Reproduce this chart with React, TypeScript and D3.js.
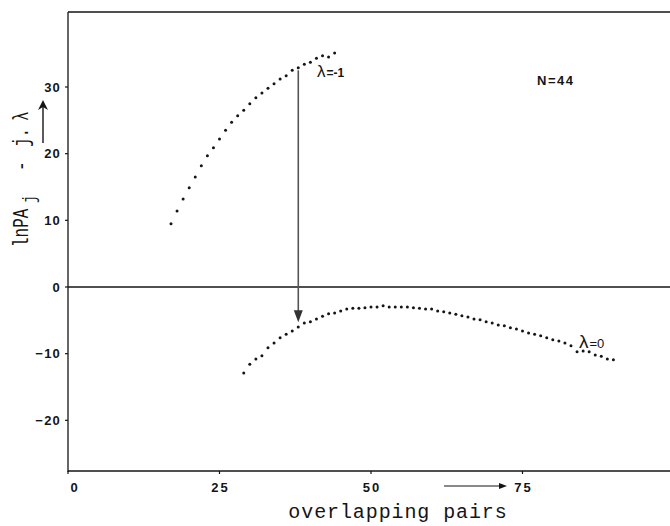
import React from "react";
import * as d3 from "d3";

// Number of overlapping pairs for the λ = -1 series
const upperX = [17, 18, 19, 20, 21, 22, 23, 24, 25, 26, 27, 28, 29, 30, 31, 32, 33, 34, 35, 36, 37, 38, 39, 40, 41, 42, 43, 44];
// lnPA_j - j·λ for λ = -1
const upperY = [9.5, 11.4, 13.2, 14.9, 16.5, 18.2, 19.7, 20.9, 22.2, 23.5, 24.7, 25.7, 26.5, 27.5, 28.4, 29.1, 29.8, 30.5, 31.2, 31.7, 32.5, 32.9, 33.4, 33.7, 34.3, 34.7, 34.5, 35.1];

// Number of overlapping pairs for the λ = 0 series
const lowerX = [29, 30, 31, 32, 33, 34, 35, 36, 37, 38, 39, 40, 41, 42, 43, 44, 45, 46, 47, 48, 49, 50, 51, 52, 53, 54, 55, 56, 57, 58, 59, 60, 61, 62, 63, 64, 65, 66, 67, 68, 69, 70, 71, 72, 73, 74, 75, 76, 77, 78, 79, 80, 81, 82, 83, 84, 85, 86, 87, 88, 89, 90];
// lnPA_j for λ = 0
const lowerY = [-12.9, -11.6, -10.8, -10.3, -9.1, -8.4, -7.6, -7.1, -6.6, -6.0, -5.4, -5.2, -4.8, -4.4, -4.0, -3.9, -3.6, -3.3, -3.2, -3.2, -3.1, -3.0, -3.0, -2.8, -3.0, -3.0, -3.0, -3.0, -3.1, -3.2, -3.3, -3.3, -3.6, -3.7, -3.9, -4.1, -4.3, -4.5, -4.8, -4.9, -5.2, -5.4, -5.7, -5.8, -6.1, -6.3, -6.6, -6.9, -7.1, -7.3, -7.6, -7.9, -8.1, -8.4, -8.8, -9.7, -9.6, -9.7, -10.2, -10.4, -10.8, -10.9];

const xTicks = [0, 25, 50, 75];
const yTicks = [-20, -10, 0, 10, 20, 30];

// Shift arrow between the two curves at j = 38
const shiftX = [38];
const shiftFrom = [32.5];
const shiftTo = [-5.3];

const W = 670;
const H = 526;
const INK = "#151515";
const tickFont = "'Liberation Sans', Arial, sans-serif";
const monoFont = "'Liberation Mono', 'Courier New', monospace";

export default function App() {
  const x = d3.scaleLinear().domain([0, 100]).range([68, 674]);
  const y = d3.scaleLinear().domain([-27.6, 41.25]).range([471, 12]);

  const x0 = x(0);
  const yTop = y(41.25);
  const yBot = y(-27.6);

  const upper = upperX.map((v, i) => [v, upperY[i]]);
  const lower = lowerX.map((v, i) => [v, lowerY[i]]);

  const ax = x(shiftX[0]);
  const a1 = y(shiftFrom[0]);
  const a2 = y(shiftTo[0]);

  return (
    <svg
      width={W}
      height={H}
      viewBox={`0 0 ${W} ${H}`}
      style={{ position: "absolute", left: 0, top: 0, background: "#fff" }}
    >
      <rect x={0} y={0} width={W} height={H} fill="#fff" />

      {/* frame: left axis, top border, bottom axis, zero line */}
      <line x1={x0} y1={yTop} x2={x0} y2={yBot + 1} stroke={INK} strokeWidth={1.3} />
      <line x1={x0} y1={yTop} x2={W} y2={yTop} stroke={INK} strokeWidth={1.3} />
      <line x1={x0} y1={yBot} x2={W} y2={yBot} stroke={INK} strokeWidth={1.3} />
      <line x1={x0} y1={y(0)} x2={W} y2={y(0)} stroke={INK} strokeWidth={1.6} />

      {/* y ticks */}
      {yTicks.map((t) => (
        <g key={`yt${t}`}>
          <line x1={x0 - 3} y1={y(t)} x2={x0} y2={y(t)} stroke={INK} strokeWidth={1.2} />
          <text
            x={61}
            y={y(t)}
            dy="0.35em"
            textAnchor="end"
            fontFamily={tickFont}
            fontWeight="bold"
            fontSize={13}
            letterSpacing={1.2}
            fill={INK}
          >
            {t < 0 ? `\u2212${Math.abs(t)}` : `${t}`}
          </text>
        </g>
      ))}

      {/* x ticks */}
      {xTicks.map((t) => (
        <g key={`xt${t}`}>
          <line x1={x(t)} y1={yBot} x2={x(t)} y2={yBot + 3} stroke={INK} strokeWidth={1.2} />
          <text
            x={x(t) + (t === 0 ? 7 : 1)}
            y={492}
            textAnchor="middle"
            fontFamily={tickFont}
            fontWeight="bold"
            fontSize={13}
            letterSpacing={2}
            fill={INK}
          >
            {t}
          </text>
        </g>
      ))}

      {/* x-axis title with arrow */}
      <line x1={444} y1={486} x2={501} y2={486} stroke={INK} strokeWidth={1.1} />
      <path d="M507,486 L499,483 L499,489 Z" fill={INK} />
      <text
        x={398}
        y={518}
        textAnchor="middle"
        fontFamily={monoFont}
        fontSize={20}
        letterSpacing={0.9}
        fill={INK}
      >
        overlapping pairs
      </text>

      {/* y-axis title, rotated, with stretched glyphs */}
      <g transform="translate(28,247) rotate(-90) scale(1,1.4)">
        <text fontFamily={monoFont} fontSize={16} fill={INK}>
          <tspan x={0} y={0}>lnPA</tspan>
          <tspan x={44} y={5} fontSize={13}>j</tspan>
          <tspan x={76} y={0}>-</tspan>
          <tspan x={100} y={0}>j.</tspan>
          <tspan x={126} y={0}>λ</tspan>
        </text>
      </g>
      <line x1={43} y1={143} x2={43} y2={104} stroke={INK} strokeWidth={1.4} />
      <path d="M43,100 L38,110 L43,107 L48,110 Z" fill={INK} />

      {/* data dots */}
      {upper.map(([a, b], i) => (
        <circle key={`u${i}`} cx={x(a)} cy={y(b)} r={1.5} fill={INK} />
      ))}
      {lower.map(([a, b], i) => (
        <circle key={`l${i}`} cx={x(a)} cy={y(b)} r={1.5} fill={INK} />
      ))}

      {/* shift arrow */}
      <line x1={ax} y1={a1} x2={ax} y2={a2 - 10} stroke="#555" strokeWidth={1.6} />
      <path d={`M${ax},${a2} L${ax - 4.5},${a2 - 12} L${ax + 4.5},${a2 - 12} Z`} fill="#333" />

      {/* curve labels */}
      <text x={317} y={77} fontFamily={tickFont} fill={INK}>
        <tspan fontSize={17}>λ</tspan>
        <tspan fontSize={12} fontWeight="bold" dx={1}>=-1</tspan>
      </text>
      <text x={579} y={348} fontFamily={tickFont} fill={INK}>
        <tspan fontSize={19}>λ</tspan>
        <tspan fontSize={13} dx={1}>=0</tspan>
      </text>
      <text
        x={537}
        y={85}
        fontFamily={tickFont}
        fontWeight="bold"
        fontSize={13}
        letterSpacing={1.5}
        fill={INK}
      >
        N=44
      </text>
    </svg>
  );
}
